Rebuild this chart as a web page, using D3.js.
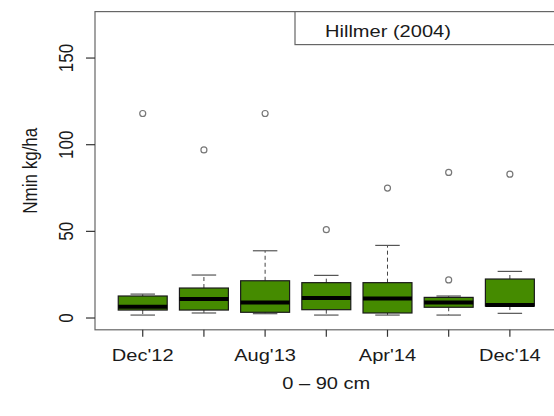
<!DOCTYPE html>
<html>
<head>
<meta charset="utf-8">
<script src="https://cdn.jsdelivr.net/npm/d3@7"></script>
<style>
  body { margin: 0; background: #fff; }
  text { font-family: "Liberation Sans", Arial, sans-serif; fill: #1a1a1a; }
</style>
</head>
<body>
<div id="chart"></div>
<script>
// box positions 1..7, only every other tick is labelled
const positions = [1, 2, 3, 4, 5, 6, 7];
const tickLabels = ["Dec'12", "", "Aug'13", "", "Apr'14", "", "Dec'14"];
const yTicks = [0, 50, 100, 150];

// boxplot stats (kg/ha)
const lowerWhisker = [1.7, 2.9, 2.5, 1.7, 1.7, 1.7, 2.7];
const q1 = [4.6, 4.6, 3.3, 4.8, 2.9, 6.2, 6.9];
const median = [6.5, 11.0, 9.0, 11.5, 11.3, 9.0, 7.5];
const q3 = [12.7, 17.3, 21.5, 20.4, 20.4, 11.9, 22.5];
const upperWhisker = [13.8, 24.8, 38.8, 24.6, 41.9, 12.7, 26.9];
const outliers = [[118], [97], [118], [51], [75], [22, 84], [83]];

const legendText = "Hillmer (2004)";
const xTitle = "0 \u2013 90 cm";
const yTitle = "Nmin kg/ha";

const width = 554, height = 416;
const SX = 1.18; // the picture is stretched sideways
const fontSize = 17;

const svg = d3.select("#chart").append("svg")
  .attr("width", width)
  .attr("height", height);

// R style: xlim c(0.5,7.5) and ylim c(0,170), both widened by 4%
const xScale = d3.scaleLinear().domain([0.22, 7.78]).range([95, 557.6]);
const yScale = d3.scaleLinear().domain([-6.8, 176.8]).range([329.8, 11.6]);

const plotLeft = xScale.range()[0], plotRight = xScale.range()[1];
const plotTop = yScale.range()[1], plotBottom = yScale.range()[0];

const boxHalf = xScale(1.4) - xScale(1);
const stapleHalf = boxHalf / 2;

function addText(x, y, str, anchor, rotate) {
  const g = svg.append("g")
    .attr("transform", "translate(" + x + "," + y + ") scale(" + SX + ",1)");
  const t = g.append("text")
    .attr("text-anchor", anchor)
    .attr("font-size", fontSize)
    .text(str);
  if (rotate) t.attr("transform", "rotate(-90)");
  return t;
}

// plot frame
svg.append("rect")
  .attr("x", plotLeft).attr("y", plotTop)
  .attr("width", plotRight - plotLeft).attr("height", plotBottom - plotTop)
  .attr("fill", "none")
  .attr("stroke", "#666")
  .attr("stroke-width", 1.2);

// y axis ticks + labels
yTicks.forEach(function(v) {
  svg.append("line")
    .attr("x1", plotLeft - 9).attr("x2", plotLeft)
    .attr("y1", yScale(v)).attr("y2", yScale(v))
    .attr("stroke", "#333").attr("stroke-width", 1.2);
  addText(73, yScale(v), String(v), "middle", true);
});

// x axis ticks + labels
positions.forEach(function(p, i) {
  svg.append("line")
    .attr("x1", xScale(p)).attr("x2", xScale(p))
    .attr("y1", plotBottom).attr("y2", plotBottom + 7)
    .attr("stroke", "#333").attr("stroke-width", 1.2);
  if (tickLabels[i]) addText(xScale(p), 361, tickLabels[i], "middle", false);
});

// boxes
const boxes = svg.append("g");
positions.forEach(function(p, i) {
  const cx = xScale(p);
  const g = boxes.append("g");

  // dashed whiskers
  g.append("line")
    .attr("x1", cx).attr("x2", cx)
    .attr("y1", yScale(q3[i])).attr("y2", yScale(upperWhisker[i]))
    .attr("stroke", "#444").attr("stroke-dasharray", "4,3");
  g.append("line")
    .attr("x1", cx).attr("x2", cx)
    .attr("y1", yScale(q1[i])).attr("y2", yScale(lowerWhisker[i]))
    .attr("stroke", "#444").attr("stroke-dasharray", "4,3");

  // staples
  [upperWhisker[i], lowerWhisker[i]].forEach(function(v) {
    g.append("line")
      .attr("x1", cx - stapleHalf).attr("x2", cx + stapleHalf)
      .attr("y1", yScale(v)).attr("y2", yScale(v))
      .attr("stroke", "#555").attr("stroke-width", 1.2);
  });

  g.append("rect")
    .attr("x", cx - boxHalf)
    .attr("y", yScale(q3[i]))
    .attr("width", boxHalf * 2)
    .attr("height", yScale(q1[i]) - yScale(q3[i]))
    .attr("fill", "#458b00")
    .attr("stroke", "#1a1a1a")
    .attr("stroke-width", 1.2);

  g.append("line")
    .attr("x1", cx - boxHalf).attr("x2", cx + boxHalf)
    .attr("y1", yScale(median[i])).attr("y2", yScale(median[i]))
    .attr("stroke", "#000").attr("stroke-width", 4);

  g.selectAll("circle")
    .data(outliers[i])
    .enter()
    .append("circle")
    .attr("cx", cx)
    .attr("cy", function(d) { return yScale(d); })
    .attr("r", 3)
    .attr("fill", "none")
    .attr("stroke", "#777")
    .attr("stroke-width", 1.2);
});

// legend box (top right, runs off the edge like the frame)
svg.append("rect")
  .attr("x", 295).attr("y", plotTop)
  .attr("width", plotRight - 295).attr("height", 33)
  .attr("fill", "#fff")
  .attr("stroke", "#666")
  .attr("stroke-width", 1.2);
addText(325, plotTop + 25, legendText, "start", false);

// axis titles
addText(37, (plotTop + plotBottom) / 2, yTitle, "middle", true);
addText((plotLeft + plotRight) / 2, 389, xTitle, "middle", false);
</script>
</body>
</html>
